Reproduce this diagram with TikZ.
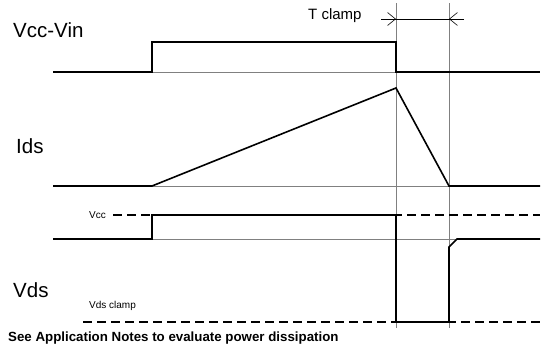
\documentclass[tikz,border=0pt]{standalone}
\usepackage{fontspec}
\setmainfont{Liberation Sans}
\usetikzlibrary{arrows.meta}
\tikzset{%
  sig/.style        = {line width=1.6pt, line join=miter},%
  guide/.style      = {line width=0.8pt, draw=black!50},%
  dashedref/.style  = {line width=1.3pt, dash pattern=on 9pt off 5pt},%
  biglabel/.style   = {anchor=west, inner sep=0pt, font=\fontsize{20.5}{24}\selectfont},%
  smalllabel/.style = {anchor=west, inner sep=0pt, font=\fontsize{10}{12}\selectfont},%
  barb/.style       = {-{Straight Barb[length=8pt,width=13pt]}}%
}
\begin{document}
\begin{tikzpicture}[x=1pt,y=-1pt,line cap=butt]
	\useasboundingbox (0,0) rectangle (547,348);
	% switching instants
	\coordinate (on)    at (152,0);
	\coordinate (off)   at (396,0);
	\coordinate (end)   at (449,0);
	% labels
	\node [biglabel] (vin)   at (13,30)  {Vcc-Vin};
	\node [biglabel] (ids)   at (16,146) {Ids};
	\node [biglabel] (vds)   at (13,290) {Vds};
	\node [smalllabel] (vcc)   at (89,215) {Vcc};
	\node [smalllabel] (clamp) at (89,306) {Vds clamp};
	\node [anchor=west, inner sep=0pt, font=\fontsize{15}{18}\selectfont] (tcl) at (308,16) {T clamp};
	\node [anchor=west, inner sep=0pt, font=\bfseries\fontsize{13.3}{16}\selectfont] (note) at (8,338)
		{See Application Notes to evaluate power dissipation};
	% guides
	\draw [guide] (off |- 0,3) -- (off |- 0,328);
	\draw [guide] (end |- 0,3) -- (end |- 0,328);
	\draw [guide] (on |- 0,72) -- (off |- 0,72);
	\draw [guide] (on |- 0,186) -- (end |- 0,186);
	\draw [guide] (on |- 0,239) -- (457,239);
	% T clamp
	\draw [guide, draw=black, line width=0.6pt] (381,19) -- (464,19);
	\draw [barb, line width=0.6pt] (381,19) -- (off |- 0,19);
	\draw [barb, line width=0.6pt] (464,19) -- (end |- 0,19);
	% reference levels
	\draw [dashedref] (113,215) -- (540,215);
	\draw [dashedref] (83,322) -- (540,322);
	% waveforms
	\draw [sig] (53,72) -- (on |- 0,72) -- (on |- 0,42) -- (off |- 0,42) -- (off |- 0,72) -- (540,72);
	\draw [sig] (53,186) -- (on |- 0,186) -- (off |- 0,88) -- (end |- 0,186) -- (540,186);
	\draw [sig] (53,239) -- (on |- 0,239) -- (on |- 0,215) -- (off |- 0,215) -- (off |- 0,322)
		-- (end |- 0,322) -- (end |- 0,247) -- (457,239) -- (540,239);
\end{tikzpicture}
\end{document}
